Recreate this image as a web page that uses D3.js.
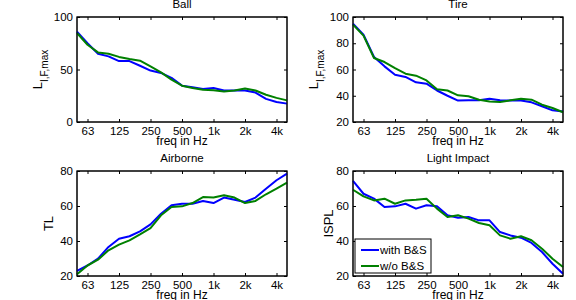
<!DOCTYPE html>
<head>
  <meta charset="utf-8">
  <script src="https://d3js.org/d3.v7.min.js"></script>
  <style>
    body { margin:0; background:#fff; }
    text { font-family: "Liberation Sans", Arial, sans-serif; fill:#000; }
    .line { fill:none; stroke-width:2px; stroke-linejoin:round; }
  </style>
</head>
<body>
  <script>
    // third-octave bands 50 Hz .. 5 kHz
    var bands = ["50","63","80","100","125","160","200","250","315","400","500","630","800",
                 "1k","1.25k","1.6k","2k","2.5k","3.15k","4k","5k"];
    var xTicks = ["63","125","250","500","1k","2k","4k"];
    var seriesNames = ["with B&S","w/o B&S"];
    var colors = ["#0000ff","#008000"];

    var ballWith = [86,75,65,62.5,58,58,53.6,49,46.7,42,34.6,33,31.4,32.4,30,30,30,28,22,19,17.5];
    var ballWithout = [84.8,73.6,66.3,65,62,60,58.4,53,47.3,40.3,34.6,32.4,30.8,30.2,29,30,32,30,26,23,20.6];

    var tireWith = [94.9,86.5,69.5,62.4,56,54.3,50.2,49.2,44,40,36.3,36.5,36.5,37.8,36.5,36.3,36.3,35,32,28.9,28];
    var tireWithout = [94.2,85.8,68.8,65.7,61,56.8,55.3,51.7,45,44,40.3,39.6,37,35.7,35.2,36.5,37.8,37,33.2,30.7,27.4];

    var airWith = [22.9,26,29.9,36.6,41.3,42.7,45.5,49.5,55.6,60.4,61.3,61.3,62.9,61.7,64.8,63.6,62.3,64.8,69.9,74.7,78.5];
    var airWithout = [21,26,29.3,34.7,37.9,40.4,43.8,47.4,54.7,59.4,59.8,61.7,65.1,64.8,66.1,64.8,61.7,62.9,66.7,69.9,73.3];

    var lightWith = [74.3,67,64.2,59.4,59.8,61.3,58.5,60.4,59.8,54.7,53.3,53.7,51.8,51.8,45.1,43.2,41.9,38.9,33.7,27,21.3];
    var lightWithout = [69.3,65.5,63.2,64.2,61.3,63.2,63.6,64.2,58.5,53.7,54.7,52.8,50.3,49,43.2,41.3,42.7,40.4,35.6,29.9,25.1];

    var panels = [
      { title:"Ball", ylab:"L", ysub:"I,F,max", yDomain:[0,100], yTicks:[0,50,100],
        series:[ballWith, ballWithout], x0:77, y0:17, labX:42 },
      { title:"Tire", ylab:"L", ysub:"I,F,max", yDomain:[20,100], yTicks:[20,40,60,80,100],
        series:[tireWith, tireWithout], x0:353, y0:17, labX:318 },
      { title:"Airborne", ylab:"TL", ysub:"", yDomain:[20,80], yTicks:[20,40,60,80],
        series:[airWith, airWithout], x0:77, y0:171, labX:53 },
      { title:"Light Impact", ylab:"ISPL", ysub:"", yDomain:[20,80], yTicks:[20,40,60,80],
        series:[lightWith, lightWithout], x0:353, y0:171, labX:333, legend:true }
    ];

    var W = 210, H = 105;

    var svg = d3.select("body").append("svg")
      .attr("width", 576).attr("height", 300);

    panels.forEach(function(p) {
      var g = svg.append("g").attr("transform", "translate(" + p.x0 + "," + p.y0 + ")");
      var x = d3.scalePoint().domain(bands).range([0, W]);
      var y = d3.scaleLinear().domain(p.yDomain).range([H, 0]);

      g.append("rect").attr("width", W).attr("height", H)
        .attr("fill", "#fff").attr("stroke", "#000").attr("stroke-width", 1);

      var xb = g.append("g").attr("transform", "translate(0," + H + ")")
        .call(d3.axisBottom(x).tickValues(xTicks).tickSize(-3).tickPadding(5));
      var xt = g.append("g")
        .call(d3.axisTop(x).tickValues(xTicks).tickSize(-3).tickFormat(""));
      var yl = g.append("g")
        .call(d3.axisLeft(y).tickValues(p.yTicks).tickSize(-3).tickPadding(4));
      var yr = g.append("g").attr("transform", "translate(" + W + ",0)")
        .call(d3.axisRight(y).tickValues(p.yTicks).tickSize(-3).tickFormat(""));
      [xb, xt, yl, yr].forEach(function(a) {
        a.select(".domain").remove();
        a.selectAll("text").style("font-size", "11.5px").style("font-family", "Liberation Sans, Arial, sans-serif");
      });

      var line = d3.line()
        .x(function(d, i) { return x(bands[i]); })
        .y(function(d) { return y(d); });

      p.series.forEach(function(s, k) {
        g.append("path").datum(s).attr("class", "line")
          .attr("stroke", colors[k]).attr("d", line);
      });

      g.append("rect").attr("width", W).attr("height", H)
        .attr("fill", "none").attr("stroke", "#000").attr("stroke-width", 1);

      g.append("text").attr("x", W / 2).attr("y", -9)
        .attr("text-anchor", "middle").style("font-size", "11.5px").text(p.title);

      g.append("text").attr("x", W / 2).attr("y", H + 23)
        .attr("text-anchor", "middle").style("font-size", "12px").text("freq in Hz");

      var lab = svg.append("text")
        .attr("transform", "translate(" + p.labX + "," + (p.y0 + H / 2) + ") rotate(-90)")
        .attr("text-anchor", "middle").style("font-size", "13px");
      lab.append("tspan").text(p.ylab);
      if (p.ysub) {
        lab.append("tspan").attr("dy", 6).style("font-size", "10px").text(p.ysub);
      }

      if (p.legend) {
        var lg = g.append("g").attr("transform", "translate(2,68)");
        lg.append("rect").attr("width", 76).attr("height", 34)
          .attr("fill", "#fff").attr("stroke", "#000").attr("stroke-width", 1);
        seriesNames.forEach(function(n, k) {
          var yy = 11 + k * 16;
          lg.append("line").attr("x1", 6).attr("x2", 24).attr("y1", yy).attr("y2", yy)
            .attr("stroke", colors[k]).attr("stroke-width", 2);
          lg.append("text").attr("x", 25).attr("y", yy + 4)
            .style("font-size", "11.5px").text(n);
        });
      }
    });
  </script>
</body>
